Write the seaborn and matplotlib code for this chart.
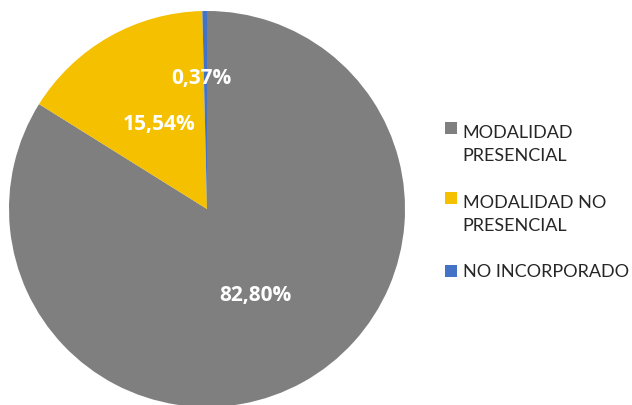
import numpy as np
import matplotlib
matplotlib.use("Agg")
import matplotlib.pyplot as plt
from matplotlib.patches import Rectangle
from matplotlib.legend_handler import HandlerPatch
import seaborn as sns

categories = ["MODALIDAD\nPRESENCIAL", "MODALIDAD NO\nPRESENCIAL", "NO INCORPORADO"]
values = [82.80, 15.54, 0.37]
colors = ["#7F7F7F", "#F5C000", "#4472C4"]
label_dist = [0.50, 0.49, 0.66]

sns.set_theme(style="white")
plt.rcParams['font.family'] = ['Lato', 'DejaVu Sans']

fig = plt.figure(figsize=(6.32, 4.05), dpi=100)
ax = fig.add_axes([0.01424, -0.0049, 0.6266, 0.9778])
wedges, _ = ax.pie(values, colors=colors, startangle=90, counterclock=False,
                   wedgeprops=dict(linewidth=0))
ax.set_xlim(-1, 1)
ax.set_ylim(-1, 1)
ax.set_aspect('equal')
ax.axis('off')

for w, v, d in zip(wedges, values, label_dist):
    ang = np.deg2rad((w.theta1 + w.theta2) / 2)
    txt = f"{v:.2f}%".replace('.', ',')
    ax.text(d * np.cos(ang) - (0.02 if v < 1 else 0), d * np.sin(ang), txt,
            ha='center', va='center', color='white', fontsize=15,
            fontweight='bold', family=['Open Sans', 'DejaVu Sans'])


def make_handler(nlines):
    def patch_func(legend, orig_handle, xdescent, ydescent, width, height, fontsize):
        shift = (nlines - 1) * 12.0
        return Rectangle((-xdescent, -ydescent + shift), width, height)
    return HandlerPatch(patch_func=patch_func)

hmap = {w: make_handler(c.count("\n") + 1) for w, c in zip(wedges, categories)}

leg = fig.legend(wedges, categories, loc='upper left', bbox_to_anchor=(0.679, 0.732),
                 frameon=False, fontsize=13, handlelength=0.65, handleheight=0.65,
                 handletextpad=0.3, labelspacing=1.7, handler_map=hmap)
for t in leg.get_texts():
    t.set_linespacing(1.55)
fig.savefig("out.png", dpi=100)
